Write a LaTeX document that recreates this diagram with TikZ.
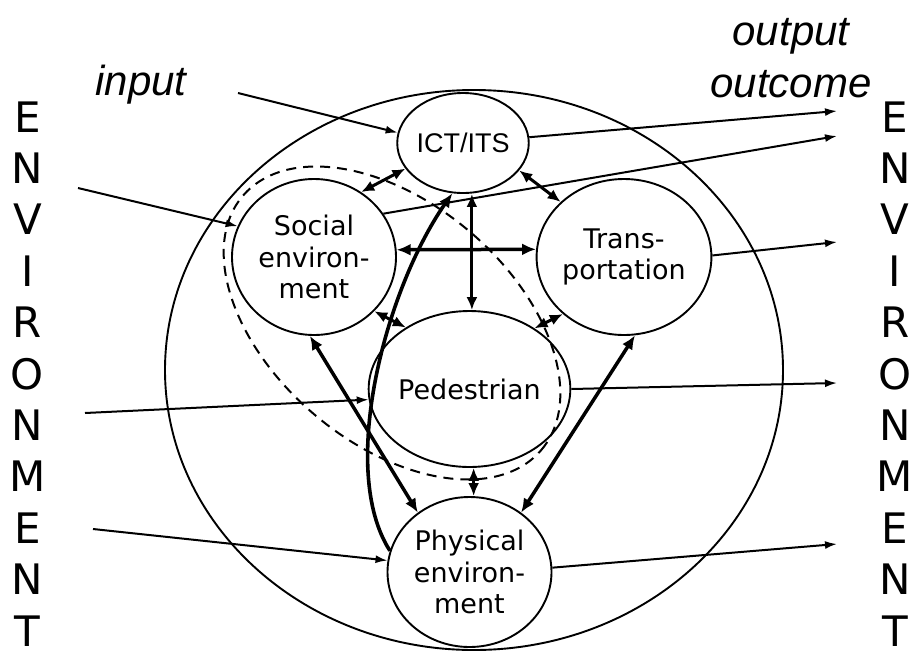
\documentclass[tikz,border=0pt]{standalone}
\usepackage{fontspec}
\setmainfont{DejaVu Sans}
\newfontfamily\arialfont{Liberation Sans}
\usetikzlibrary{arrows.meta,shapes.geometric,calc}

\begin{document}
\begin{tikzpicture}[x=1pt,y=-1pt,
  unit/.style={draw, line width=1.9pt, ellipse, inner sep=0pt, align=center,
    font=\fontsize{27}{31.5}\selectfont,
    minimum width=164pt, minimum height=156pt},
  feed/.style={line width=2pt, -{Latex[length=12pt,width=8pt]}},
  link/.style={line width=3pt,
    {Latex[length=13pt,width=11pt]}-{Latex[length=13pt,width=11pt]}},
  heavy/.style={line width=3.5pt,
    {Latex[length=14pt,width=12pt]}-{Latex[length=14pt,width=12pt]}},
  envletter/.style={font=\fontsize{42}{50}\selectfont, inner sep=0pt, anchor=base},
  tag/.style={font=\arialfont\itshape\fontsize{42}{50}\selectfont, inner sep=0pt, anchor=base}
]
\useasboundingbox (0,0) rectangle (913,657);

% system boundary and the social/pedestrian grouping
\draw[line width=1.9pt] (474,370) ellipse [x radius=309pt, y radius=280pt];
\draw[line width=2pt, dash pattern=on 10pt off 7pt, shift={(392,323)}, rotate=-40.4]
  (0,0) ellipse [x radius=196pt, y radius=120pt];

% components
\node[unit, minimum width=124pt, minimum height=100pt,
      font=\arialfont\fontsize{27}{32}\selectfont] (ict) at (463,143) {ICT/ITS};
\node[unit] (soc) at (314,257) {Social\\environ-\\ment};
\node[unit] (tra) at (624,257) {Trans-\\portation};
\node[unit] (ped) at (469.5,389) {Pedestrian};
\node[unit, minimum height=150pt] (phy) at (469.5,572) {Physical\\environ-\\ment};

% labels
\node[tag] (inlbl) at (141,95) {input};
\node[tag] (outlbl) at (791,45) {output};
\node[tag] (outclbl) at (791,97) {outcome};

% ENVIRONMENT columns
\foreach \ch [count=\i from 0] in {E,N,V,I,R,O,N,M,E,N,T} {
  \node[envletter] (envL\i) at (27.5,132+51.4*\i) {\ch};
  \node[envletter] (envR\i) at (895,132+51.4*\i) {\ch};
}

% free ends of the inputs and outputs
\coordinate (i0) at (238,93);
\coordinate (i1) at (78,188);
\coordinate (i2) at (85,413);
\coordinate (i3) at (93,529);
\coordinate (o0) at (837,111);
\coordinate (o1) at (837,136);
\coordinate (o2) at (837,242);
\coordinate (o3) at (837,383);
\coordinate (o4) at (837,544);

% inputs
\draw[feed] (i0) -- (ict.171);
\draw[feed] (i1) -- (soc.158.5);
\draw[feed] (i2) -- (ped.186);
\draw[feed] (i3) -- (phy.172);

% outputs
\draw[feed] (ict.5.5) -- (o0);
\draw[feed] (soc.32.4) -- (o1);
\draw[feed] (tra.1.4) -- (o2);
\draw[feed] (ped.0) -- (o3);
\draw[feed] (phy.3.5) -- (o4);

% interactions
\draw[link] (soc.54.4) -- (ict.204.4);
\draw[link] (ict.-26) -- (tra.139);
\draw[heavy] (soc.5) -- (tra.175);
\draw[link] (ict.-80 |- ict.south) -- (ict.-80 |- ped.north);
\draw[link] (soc.-42.6) -- (ped.136.5);
\draw[link] (ped.43.5) -- (tra.223);
\draw[link] (ped.-87) -- (ped.-87 |- phy.north);
\draw[heavy] (soc.267) -- (phy.131);
\draw[heavy] (tra.-82) -- (phy.49.6);
\draw[line width=3.6pt, -{Latex[length=14pt,width=12pt]}]
  (phy.165) .. controls (338,470) and (385,290) .. (ict.258);
\end{tikzpicture}
\end{document}
